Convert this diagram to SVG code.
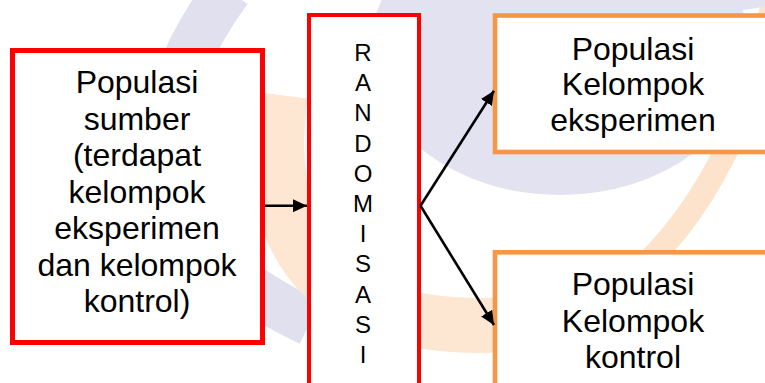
<svg xmlns="http://www.w3.org/2000/svg" width="765" height="383" viewBox="0 0 765 383">
  <defs>
    <style>
      .lbl { font-family: "Liberation Sans", Arial, sans-serif; font-size: 32px; fill: #000; text-anchor: middle; }
      .let { font-family: "Liberation Sans", Arial, sans-serif; font-size: 24px; fill: #000; text-anchor: middle; }
      .red { fill: #fff; stroke: #FF0000; }
      .org { fill: #fff; stroke: #F79646; stroke-width: 4.6; }
      .conn { fill: none; stroke: #000; stroke-width: 2.6; }
    </style>
    <marker id="ah" markerUnits="userSpaceOnUse" markerWidth="14" markerHeight="13" refX="14" refY="6.5" orient="auto">
      <path d="M0,0 L14,6.5 L0,13 z" fill="#000"/>
    </marker>
  </defs>
  <rect width="765" height="383" fill="#fff"/>
  <g id="watermark">
    <ellipse cx="560" cy="50" rx="190" ry="145" fill="#E2E2F0"/>
    <path d="M228,-10 Q70,210 310,322" fill="none" stroke="#E0E0EE" stroke-width="48"/>
    <path d="M280,95 Q250,335 500,325" fill="none" stroke="#FDE6D2" stroke-width="55"/>
    <path d="M775,-10 Q745,170 640,270" fill="none" stroke="#FDE3CC" stroke-width="24"/>
    <path d="M700,-5 Q740,5 765,-5" fill="none" stroke="#E2E2F0" stroke-width="20"/>
  </g>
  <g id="n1">
    <rect class="red" x="12.5" y="50.5" width="250" height="292" stroke-width="5"/>
    <text class="lbl" x="137" y="93">Populasi</text>
    <text class="lbl" x="137" y="129.5">sumber</text>
    <text class="lbl" x="137" y="166">(terdapat</text>
    <text class="lbl" x="137" y="202.5">kelompok</text>
    <text class="lbl" x="137" y="239">eksperimen</text>
    <text class="lbl" x="137" y="275.5">dan kelompok</text>
    <text class="lbl" x="137" y="312">kontrol)</text>
  </g>
  <g id="n2">
    <rect class="red" x="309" y="15" width="110" height="380" stroke-width="4"/>
    <text class="let" x="363" y="61">R</text>
    <text class="let" x="363" y="91.2">A</text>
    <text class="let" x="363" y="121.4">N</text>
    <text class="let" x="363" y="151.6">D</text>
    <text class="let" x="363" y="181.8">O</text>
    <text class="let" x="363" y="212">M</text>
    <text class="let" x="363" y="242.2">I</text>
    <text class="let" x="363" y="272.4">S</text>
    <text class="let" x="363" y="302.6">A</text>
    <text class="let" x="363" y="332.8">S</text>
    <text class="let" x="363" y="363">I</text>
  </g>
  <g id="n3">
    <rect class="org" x="495" y="15.5" width="300" height="136.5"/>
    <text class="lbl" x="633" y="59.5">Populasi</text>
    <text class="lbl" x="633" y="95">Kelompok</text>
    <text class="lbl" x="633" y="131">eksperimen</text>
  </g>
  <g id="n4">
    <rect class="org" x="495" y="252.3" width="300" height="200"/>
    <text class="lbl" x="633" y="295">Populasi</text>
    <text class="lbl" x="633" y="331.5">Kelompok</text>
    <text class="lbl" x="633" y="368">kontrol</text>
  </g>
  <g id="connectors">
    <path class="conn" d="M265,205.7 L307,205.7" marker-end="url(#ah)"/>
    <path class="conn" d="M420.5,205.7 L494,90.7" marker-end="url(#ah)"/>
    <path class="conn" d="M420.5,205.7 L494,325" marker-end="url(#ah)"/>
  </g>
</svg>
